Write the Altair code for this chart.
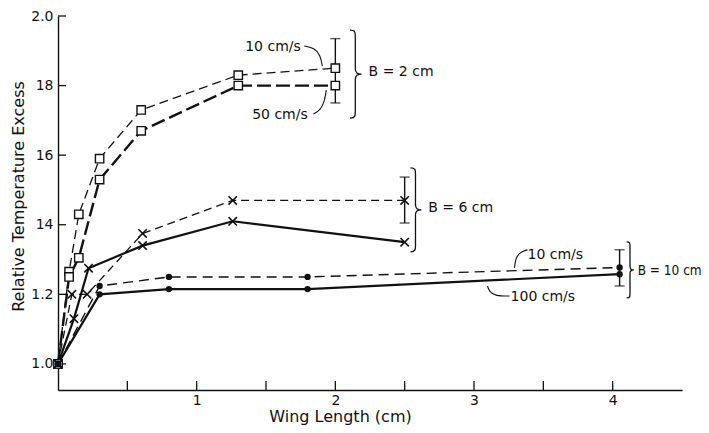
import altair as alt
import pandas as pd

# ---------------- data ----------------
B2_X = [0, 0.08, 0.15, 0.3, 0.6, 1.3, 2.0]
B2_10 = [1.0, 1.265, 1.43, 1.59, 1.73, 1.83, 1.85]
B2_50 = [1.0, 1.25, 1.305, 1.53, 1.67, 1.80, 1.80]

B6_X10 = [0, 0.1, 0.21, 0.61, 1.26, 2.5]
B6_10 = [1.0, 1.20, 1.20, 1.375, 1.47, 1.47]
B6_X50 = [0, 0.115, 0.22, 0.61, 1.26, 2.5]
B6_50 = [1.0, 1.13, 1.275, 1.34, 1.41, 1.35]

B10_X = [0, 0.3, 0.8, 1.8, 4.05]
B10_10 = [1.0, 1.224, 1.25, 1.25, 1.277]
B10_100 = [1.0, 1.20, 1.215, 1.215, 1.258]

ERR_X = [2.0, 2.5, 4.05]
ERR_LO = [1.75, 1.405, 1.224]
ERR_HI = [1.935, 1.537, 1.328]

Y_TICKS = [1.0, 1.2, 1.4, 1.6, 1.8, 2.0]
Y_TICK_LABELS = ["1.0", "1.2", "14", "16", "18", "2.0"]
X_TICKS = [0.5, 1, 1.5, 2, 2.5, 3, 3.5, 4]
X_LABEL_VALUES = [1, 2, 3, 4]

TEXT_LABELS = ["10 cm/s", "50 cm/s", "B = 2 cm", "B = 6 cm",
               "10 cm/s", "100 cm/s"]
TEXT_X = [1.35, 1.40, 2.24, 2.67, 3.386, 3.264]
TEXT_Y = [1.911, 1.716, 1.839, 1.448, 1.313, 1.193]

EDGE_LABEL = ["B = 10 cm"]
EDGE_X = [4.18]
EDGE_Y = [1.267]

BRACE_X = [2.144, 2.578, 4.125]
BRACE_Y = [1.833, 1.443, 1.27]

LEAD1_X = [1.776, 1.848, 1.892, 1.906]
LEAD1_Y = [1.914, 1.908, 1.888, 1.856]
LEAD2_X = [1.841, 1.892, 1.921, 1.935]
LEAD2_Y = [1.718, 1.730, 1.753, 1.787]
LEAD3_X = [3.386, 3.336, 3.300, 3.292]
LEAD3_Y = [1.328, 1.322, 1.305, 1.276]
LEAD4_X = [3.256, 3.155, 3.112, 3.097]
LEAD4_Y = [1.195, 1.195, 1.207, 1.224]

# ---------------- styles ----------------
FONT = "DejaVu Sans"
FONT_COND = "DejaVu Sans Condensed, DejaVu Sans"
INK = "#111111"
SQUARE = "square"
XMARK = "M-1,-1L1,1M-1,1L1,-1"
BRACE = ("M-0.12,-1 C0,-1 0,-0.95 0,-0.85 L0,-0.12 C0,-0.03 0.05,0 0.14,0 "
         "C0.05,0 0,0.03 0,0.12 L0,0.85 C0,0.95 0,1 -0.12,1")

W, H = 624, 374

xscale = alt.Scale(domain=[0, 4.5], nice=False, zero=False)
yscale = alt.Scale(domain=[0.925, 2.0], nice=False, zero=False)

label_expr = "".join(
    f"datum.value == {v} ? '{l}' : " for v, l in zip(Y_TICKS, Y_TICK_LABELS)
) + "''"

xenc = alt.X("x:Q", scale=xscale, axis=alt.Axis(
    values=X_LABEL_VALUES, format="d", tickSize=0, labelPadding=3,
    title="Wing Length (cm)", titleX=282, titleY=31, titleBaseline="alphabetic",
    grid=False))
yenc = alt.Y("y:Q", scale=yscale, axis=alt.Axis(
    values=Y_TICKS, labelExpr=label_expr, tickSize=0, labelPadding=5,
    title="Relative Temperature Excess", titlePadding=4, titleY=180, grid=False))

layers = []

# inward tick marks
layers.append(alt.Chart(pd.DataFrame({"y": Y_TICKS})).mark_rule(
    color=INK, strokeWidth=1.3).encode(y=yenc, x=alt.value(0), x2=alt.value(8)))
layers.append(alt.Chart(pd.DataFrame({"x": X_TICKS})).mark_rule(
    color=INK, strokeWidth=1.3).encode(x=xenc, y=alt.value(H), y2=alt.value(H - 9)))

series = [
    (B2_X, B2_10, [9, 5], 1.3, "sq"),
    (B2_X, B2_50, [14, 5], 2.4, "sq"),
    (B6_X10, B6_10, [8, 5], 1.3, "x"),
    (B6_X50, B6_50, None, 2.2, "x"),
    (B10_X, B10_10, [10, 6], 1.4, "dot"),
    (B10_X, B10_100, None, 2.2, "dot"),
]

marker_layers = []
for xs, ys, dash, sw, mk in series:
    df = pd.DataFrame({"x": xs, "y": ys})
    line_kw = dict(color=INK, strokeWidth=sw)
    if dash:
        line_kw["strokeDash"] = dash
    layers.append(alt.Chart(df).mark_line(**line_kw).encode(x=xenc, y=yenc))
    if mk == "sq":
        m = alt.Chart(df).mark_point(shape=SQUARE, size=70, filled=True, fill="white",
                                     stroke=INK, strokeWidth=1.4, opacity=1)
    elif mk == "x":
        m = alt.Chart(df).mark_point(shape=XMARK, size=70, filled=False,
                                     stroke=INK, strokeWidth=1.6, opacity=1)
    else:
        m = alt.Chart(df).mark_point(shape="circle", size=40, filled=True,
                                     color=INK, opacity=1)
    marker_layers.append(m.encode(x=xenc, y=yenc))

# error bars
err_df = pd.DataFrame({"x": ERR_X, "y": ERR_LO, "y2": ERR_HI})
layers.append(alt.Chart(err_df).mark_rule(color=INK, strokeWidth=1.4).encode(
    x=xenc, y=yenc, y2="y2:Q"))
cap_df = pd.DataFrame({"x": ERR_X + ERR_X, "y": ERR_LO + ERR_HI})
layers.append(alt.Chart(cap_df).mark_tick(orient="horizontal", size=10, thickness=1.4,
                                          color=INK).encode(x=xenc, y=yenc))

layers.extend(marker_layers)

# leader curves
for lx, ly in [(LEAD1_X, LEAD1_Y), (LEAD2_X, LEAD2_Y), (LEAD3_X, LEAD3_Y), (LEAD4_X, LEAD4_Y)]:
    ldf = pd.DataFrame({"x": lx, "y": ly, "o": list(range(len(lx)))})
    layers.append(alt.Chart(ldf).mark_line(color=INK, strokeWidth=1.1, interpolate="basis")
                  .encode(x=xenc, y=yenc, order="o:O"))

# braces
for bx, by, h in zip(BRACE_X, BRACE_Y, [88, 84, 56]):
    bdf = pd.DataFrame({"x": [bx], "y": [by]})
    layers.append(alt.Chart(bdf).mark_point(shape=BRACE, size=h * h, filled=False,
                                            stroke=INK, strokeWidth=1.3, opacity=1)
                  .encode(x=xenc, y=yenc))

# text labels
tdf = pd.DataFrame({"x": TEXT_X, "y": TEXT_Y, "t": TEXT_LABELS})
layers.append(alt.Chart(tdf).mark_text(align="left", baseline="middle", font=FONT,
                                       fontSize=14, color=INK)
              .encode(x=xenc, y=yenc, text="t:N"))
edf = pd.DataFrame({"x": EDGE_X, "y": EDGE_Y, "t": EDGE_LABEL})
layers.append(alt.Chart(edf).mark_text(align="left", baseline="middle", font=FONT_COND,
                                       fontSize=13.5, color=INK)
              .encode(x=xenc, y=yenc, text="t:N"))

chart = alt.layer(*layers).properties(
    width=W, height=H,
    autosize=alt.AutoSizeParams(type="none"),
    padding={"left": 50, "top": 8, "right": 19, "bottom": 35},
).configure_view(stroke=None).configure_axis(
    domainColor=INK, domainWidth=1.4,
    labelFont=FONT, labelFontSize=14, labelColor=INK,
    titleFont=FONT, titleFontSize=16, titleFontWeight="normal", titleColor=INK,
)

chart.save("out.html", embed_options={"renderer": "svg", "actions": False})
